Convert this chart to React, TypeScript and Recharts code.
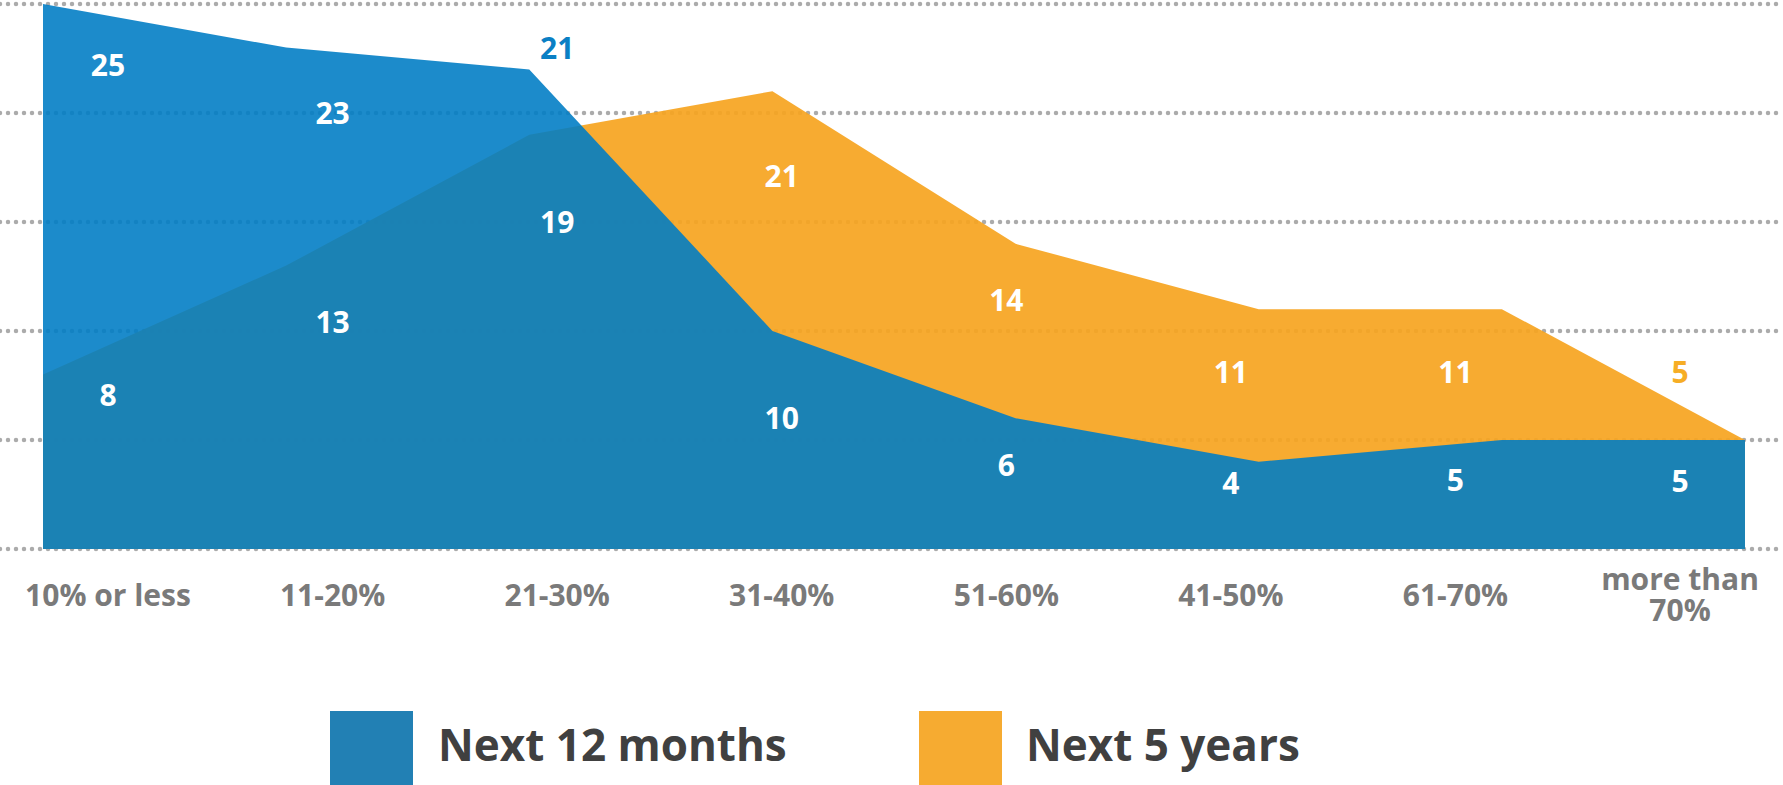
import React from 'react';
import { AreaChart, Area, Line, XAxis, YAxis, CartesianGrid, Legend, LabelList } from 'recharts';

const categories = ['10% or less', '11-20%', '21-30%', '31-40%', '51-60%', '41-50%', '61-70%', 'more than 70%'];
// area heights
const next12Values = [25, 23, 22, 10, 6, 4, 5, 5];
const next5Values = [8, 13, 19, 21, 14, 11, 11, 5];
// printed value labels
const next12Labels = [25, 23, 21, 10, 6, 4, 5, 5];
const next5Labels = [8, 13, 19, 21, 14, 11, 11, 5];
// where each printed label sits, in value units
const next12LabelPos = [22.2, 20, 23, 6, 3.85, 3.05, 3.15, 3.1];
const next5LabelPos = [7.05, 10.4, 15, 17.1, 11.4, 8.1, 8.1, 8.1];
const yTicks = [0, 5, 10, 15, 20, 25];

const BLUE = '#007dc5';
const ORANGE = '#f6a41f';
const FONT = '"Open Sans", sans-serif';

const data = categories.map((c, i) => ({
  cat: c,
  next12: next12Values[i],
  next5: next5Values[i],
  next12Label: next12Labels[i],
  next5Label: next5Labels[i],
  next12Pos: next12LabelPos[i],
  next5Pos: next5LabelPos[i],
}));

const legendItems = [
  { name: 'Next 12 months', color: '#2280b4' },
  { name: 'Next 5 years', color: '#f6ab31' },
];

const wrapLabel = (v: string): string[] => {
  if (v.length <= 12) return [v];
  const k = v.lastIndexOf(' ');
  return [v.slice(0, k), v.slice(k + 1)];
};

const CatTick = (props: any) => {
  const { x, y, payload } = props;
  const lines = wrapLabel(String(payload.value));
  const first = lines.length === 1 ? 27 : 11;
  return (
    <text x={x} y={y + first} textAnchor="middle" fill="#7a7a7a"
      style={{ fontFamily: FONT, fontWeight: 700, fontSize: 30 }}>
      {lines.map((l, i) => (
        <tspan key={i} x={x} dy={i === 0 ? 0 : 31}>{l}</tspan>
      ))}
    </text>
  );
};

const makeLabel = (values: number[], positions: number[], color: string) => (props: any) => {
  const { x, y, value, index } = props;
  const inside = positions[index] < values[index];
  return (
    <text x={x} y={y + 11} textAnchor="middle" fill={inside ? '#ffffff' : color}
      style={{ fontFamily: FONT, fontWeight: 700, fontSize: 30 }}>{value}</text>
  );
};

const GridLine = (props: any) => {
  const { x1, x2, y1, y2 } = props;
  return <line x1={x1} x2={x2} y1={y1} y2={y2} stroke="#ababab" strokeWidth={4.5}
    strokeDasharray="0 8" strokeLinecap="round" />;
};

const LegendContent = () => (
  <svg width={1783} height={156} style={{ display: 'block' }}>
    {legendItems.map((it, i) => {
      const sx = i === 0 ? 330 : 919;
      const tx = i === 0 ? 438 : 1026;
      return (
        <g key={it.name}>
          <rect x={sx} y={82} width={83} height={80} fill={it.color} />
          <text x={tx} y={132} fill="#404040"
            style={{ fontFamily: FONT, fontWeight: 700, fontSize: 44 }}>{it.name}</text>
        </g>
      );
    })}
  </svg>
);

export default function App() {
  return (
    <div style={{ position: 'absolute', left: 0, top: 0, width: 1783, height: 785, background: '#fff' }}>
      <AreaChart width={1783} height={785} data={data} margin={{ top: 4, right: 0, left: 0, bottom: 0 }}>
        <CartesianGrid vertical={false} horizontal={GridLine as any} />
        <XAxis xAxisId="a" dataKey="cat" scale="point" hide padding={{ left: 43, right: 38 }} />
        <XAxis xAxisId="b" dataKey="cat" scale="point" height={80} axisLine={false} tickLine={false}
          tickSize={0} tickMargin={0} interval={0} tick={<CatTick />} padding={{ left: 108, right: 103 }} />
        <YAxis hide domain={[0, 25]} ticks={yTicks} />
        <Area xAxisId="a" type="linear" dataKey="next5" name="Next 5 years" stroke="none"
          fill={ORANGE} fillOpacity={0.92} isAnimationActive={false} />
        <Area xAxisId="a" type="linear" dataKey="next12" name="Next 12 months" stroke="none"
          fill={BLUE} fillOpacity={0.89} isAnimationActive={false} />
        <Line xAxisId="b" dataKey="next5Pos" stroke="none" dot={false} activeDot={false}
          legendType="none" isAnimationActive={false}>
          <LabelList dataKey="next5Label" content={makeLabel(next5Values, next5LabelPos, '#f6ad25')} />
        </Line>
        <Line xAxisId="b" dataKey="next12Pos" stroke="none" dot={false} activeDot={false}
          legendType="none" isAnimationActive={false}>
          <LabelList dataKey="next12Label" content={makeLabel(next12Values, next12LabelPos, '#0a7fc4')} />
        </Line>
        <Legend verticalAlign="bottom" height={156} wrapperStyle={{ left: 0, bottom: 0 }} content={<LegendContent />} />
      </AreaChart>
    </div>
  );
}
